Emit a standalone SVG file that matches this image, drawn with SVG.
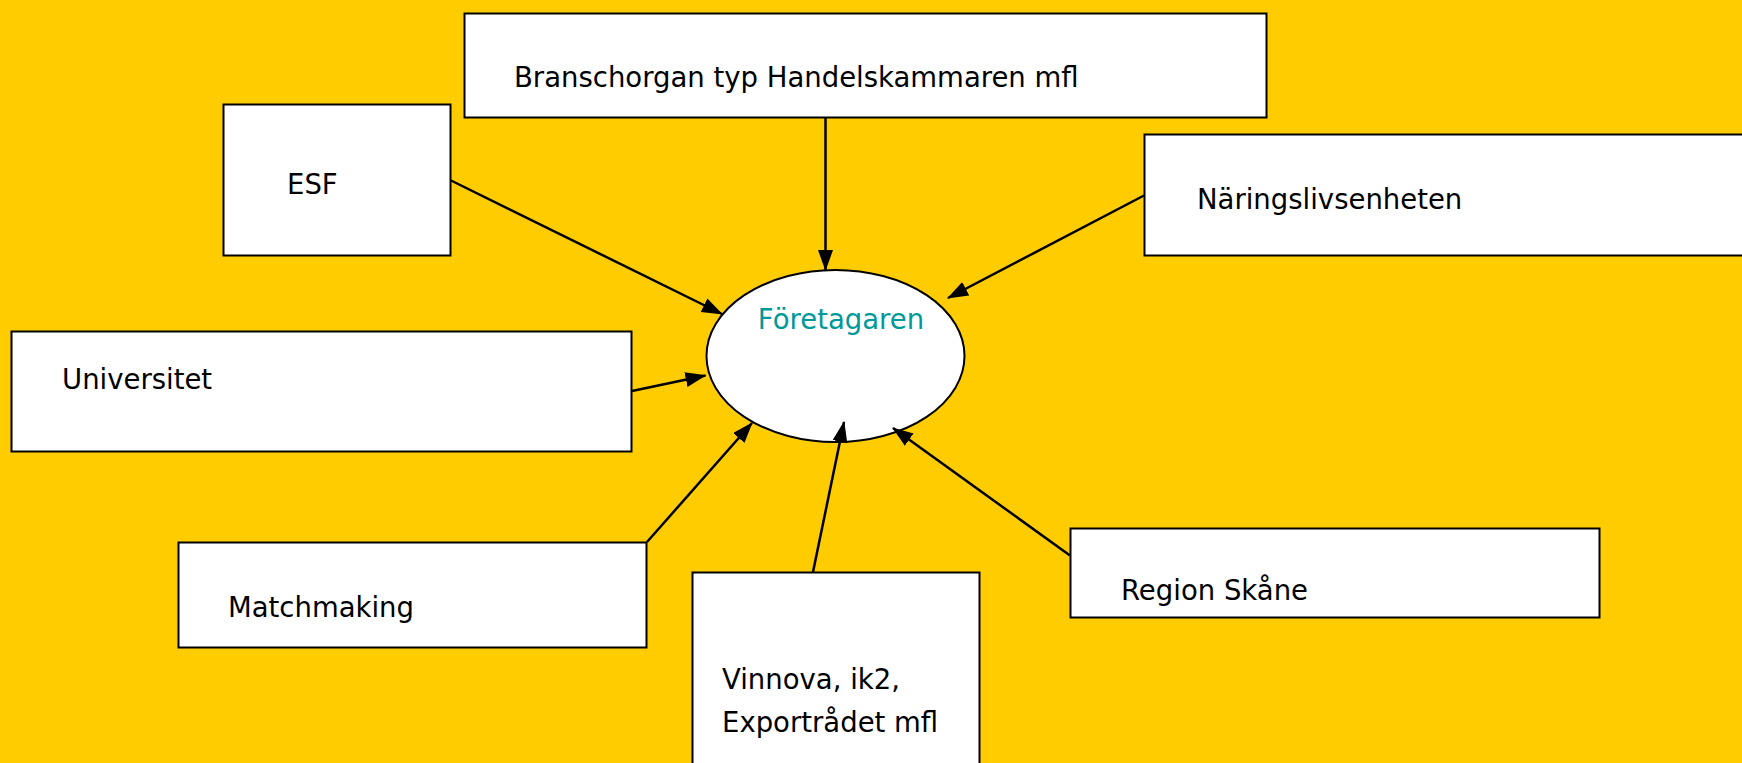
<svg xmlns="http://www.w3.org/2000/svg" width="1742" height="763" viewBox="0 0 1742 763">
<defs>
<style>
.box{fill:#fff;stroke:#000;stroke-width:2}
.lbl{font-family:"DejaVu Sans",Verdana,sans-serif;font-size:27.5px;fill:#000}
.conn{stroke:#000;stroke-width:2.5;fill:none;marker-end:url(#ah)}
</style>
<marker id="ah" markerUnits="userSpaceOnUse" markerWidth="22" markerHeight="16" refX="20" refY="7.5" orient="auto">
<path d="M0,0 L21,7.5 L0,15 z" fill="#000"/>
</marker>
</defs>
<rect x="0" y="0" width="1742" height="763" fill="#FFCC00"/>
<g id="foretagaren">
<ellipse cx="835.5" cy="356" rx="129" ry="86" fill="#fff" stroke="#000" stroke-width="2"/>
<text x="841" y="329" text-anchor="middle" style="font-family:'DejaVu Sans',Verdana,sans-serif;font-size:27.5px;fill:#009999">Företagaren</text>
</g>
<g id="connectors">
<line class="conn" x1="825.5" y1="118" x2="825.5" y2="270"/>
<line class="conn" x1="450" y1="180" x2="722" y2="314"/>
<line class="conn" x1="1144" y1="195.5" x2="948" y2="298"/>
<line class="conn" x1="632" y1="391" x2="705.5" y2="375.5"/>
<line class="conn" x1="647" y1="542" x2="752" y2="423"/>
<line class="conn" x1="813" y1="572" x2="844" y2="422"/>
<line class="conn" x1="1070" y1="555.5" x2="893" y2="428"/>
</g>
<g id="branschorgan">
<rect class="box" x="464.5" y="13.5" width="802" height="104"/>
<text class="lbl" x="514" y="87">Branschorgan typ Handelskammaren mfl</text>
</g>
<g id="esf">
<rect class="box" x="223.5" y="104.5" width="227" height="151"/>
<text class="lbl" x="287" y="194">ESF</text>
</g>
<g id="naringslivsenheten">
<rect class="box" x="1144.5" y="134.5" width="610" height="121"/>
<text class="lbl" x="1197" y="209">Näringslivsenheten</text>
</g>
<g id="universitet">
<rect class="box" x="11.5" y="331.5" width="620" height="120"/>
<text class="lbl" x="62" y="389">Universitet</text>
</g>
<g id="matchmaking">
<rect class="box" x="178.5" y="542.5" width="468" height="105"/>
<text class="lbl" x="228" y="617">Matchmaking</text>
</g>
<g id="vinnova">
<rect class="box" x="692.5" y="572.5" width="287" height="200"/>
<text class="lbl" x="722" y="689">Vinnova, ik2,</text>
<text class="lbl" x="722" y="732">Exportrådet mfl</text>
</g>
<g id="region-skane">
<rect class="box" x="1070.5" y="528.5" width="529" height="89"/>
<text class="lbl" x="1121" y="600">Region Skåne</text>
</g>
</svg>
